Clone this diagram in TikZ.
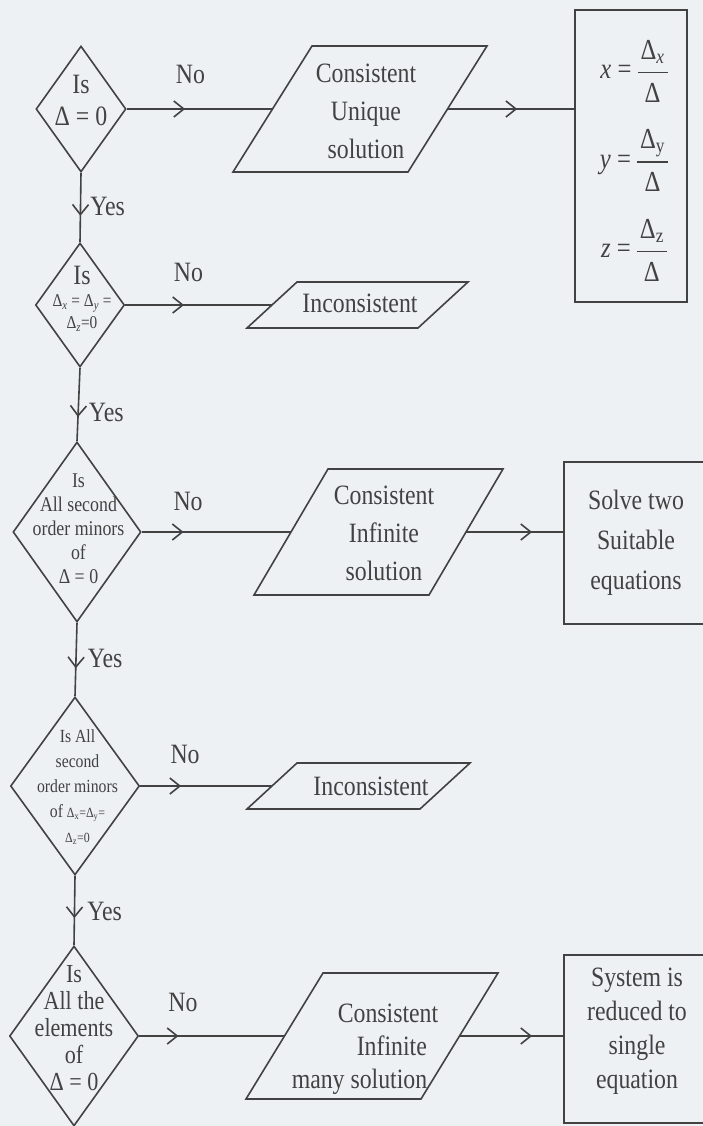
\documentclass[tikz,border=0pt]{standalone}
\usepackage[no-math]{fontspec}
\setmainfont{Liberation Serif}[FakeStretch=0.85]
\usetikzlibrary{shapes.geometric,arrows.meta,decorations.markings}
\definecolor{ink}{RGB}{66,66,66}
\definecolor{paper}{RGB}{237,241,243}
\newcommand\delfrac[1]{{\renewcommand\arraystretch{1.3}\setlength\arrayrulewidth{1.3pt}\begin{tabular}{@{\hspace{3pt}}c@{\hspace{3pt}}}#1\\\hline Δ\end{tabular}}}
\tikzset{
  shp/.style={draw=ink, line width=1.6pt},
  dia/.style={diamond, draw=ink, line width=1.6pt, inner sep=0pt},
  txt/.style={text=ink, align=center, inner sep=0pt},
  flow/.style={draw=ink, color=ink, line width=1.6pt},
  midarr/.style={postaction={decorate}, decoration={markings, mark=at position #1 with {\arrow{Straight Barb[length=10pt,width=16pt]}}}},
  lab/.style={text=ink, inner sep=0pt, font=\fontsize{28}{30}\selectfont},
  rbox/.style={draw=ink, line width=1.6pt, align=center, text=ink, inner sep=0pt},
}
\begin{document}
\begin{tikzpicture}[x=1pt,y=-1pt]
\useasboundingbox (0,0) rectangle (703,1126);
\fill[paper] (0,0) rectangle (703,1126);
\clip (0,0) rectangle (703,1126);

% decision diamonds
\node[dia, minimum width=90pt, minimum height=126pt] (d1) at (81,109) {};
\node[dia, minimum width=89pt, minimum height=124pt] (d2) at (80,305) {};
\node[dia, minimum width=128pt, minimum height=180pt] (d3) at (77,532) {};
\node[dia, minimum width=129pt, minimum height=178pt] (d4) at (75,786) {};
\node[dia, minimum width=129pt, minimum height=180pt] (d5) at (74,1036) {};

\node[txt, font=\fontsize{28}{32}\selectfont] (t1) at (81,100) {Is\\Δ = 0};
\node[txt, font=\fontsize{18}{22}\selectfont] (t2) at (82,299) {{\fontsize{28}{32}\selectfont Is}\\Δ\textsubscript{\textit{x}} = Δ\textsubscript{\textit{y}} =\\Δ\textsubscript{\textit{z}}=0};
\node[txt, font=\fontsize{21}{24}\selectfont] (t3) at (78.5,529) {Is\\All second\\order minors\\of\\Δ = 0};
\node[txt, font=\fontsize{18.5}{25}\selectfont] (t4) at (77.5,787) {Is All\\second\\order minors\\of {\fontsize{14}{15}\selectfont Δ\textsubscript{x}=Δ\textsubscript{y}=}\\{\fontsize{14}{15}\selectfont Δ\textsubscript{z}=0}};
\node[txt, font=\fontsize{26}{27}\selectfont] (t5) at (74,1028) {Is\\All the\\elements\\of\\Δ = 0};

% parallelograms
\coordinate (p1tl) at (312,46); \coordinate (p1tr) at (487,46);
\coordinate (p1br) at (408,172); \coordinate (p1bl) at (233,172);
\coordinate (p1w) at (272.5,109); \coordinate (p1e) at (447.5,109);
\draw[shp] (p1tl) -- (p1tr) -- (p1br) -- (p1bl) -- cycle;
\node[txt, font=\fontsize{28}{38}\selectfont] (pt1) at (366,111) {Consistent\\Unique\\solution};

\coordinate (p2tl) at (297,282); \coordinate (p2tr) at (468,282);
\coordinate (p2br) at (418,328); \coordinate (p2bl) at (247,328);
\coordinate (p2w) at (272,305);
\draw[shp] (p2tl) -- (p2tr) -- (p2br) -- (p2bl) -- cycle;
\node[txt, font=\fontsize{28}{34}\selectfont] (pt2) at (360,303) {Inconsistent};

\coordinate (p3tl) at (328,469); \coordinate (p3tr) at (503,469);
\coordinate (p3br) at (429,595); \coordinate (p3bl) at (254,595);
\coordinate (p3w) at (291,532); \coordinate (p3e) at (466,532);
\draw[shp] (p3tl) -- (p3tr) -- (p3br) -- (p3bl) -- cycle;
\node[txt, font=\fontsize{28}{38}\selectfont] (pt3) at (384,533) {Consistent\\Infinite\\solution};

\coordinate (p4tl) at (297,763); \coordinate (p4tr) at (470,763);
\coordinate (p4br) at (420,809); \coordinate (p4bl) at (247,809);
\coordinate (p4w) at (272,786);
\draw[shp] (p4tl) -- (p4tr) -- (p4br) -- (p4bl) -- cycle;
\node[txt, font=\fontsize{28}{34}\selectfont] (pt4) at (371,786) {Inconsistent};

\coordinate (p5tl) at (323,973); \coordinate (p5tr) at (498,973);
\coordinate (p5br) at (421,1099); \coordinate (p5bl) at (246,1099);
\coordinate (p5w) at (284.5,1036); \coordinate (p5e) at (459.5,1036);
\draw[shp] (p5tl) -- (p5tr) -- (p5br) -- (p5bl) -- cycle;
\node[txt, align=left, font=\fontsize{28}{33}\selectfont] (pt5) at (365,1049) {\hspace*{46pt}Consistent\\\hspace*{65pt}Infinite\\many solution};

% result boxes
\node[rbox, minimum width=112pt, minimum height=292pt] (b1) at (631,156) {};
\node[txt, font=\fontsize{29}{32}\selectfont] (b1t) at (634,162)
  {\textit{x} = \delfrac{Δ\textsubscript{\textit{x}}}\\[4pt]\textit{y} = \delfrac{Δ\textsubscript{y}}\\[4pt]\textit{z} = \delfrac{Δ\textsubscript{z}}};
\node[rbox, minimum width=144pt, minimum height=162pt, font=\fontsize{28}{40}\selectfont] (b3) at (636,543)
  {Solve two\\Suitable\\equations};
\node[rbox, minimum width=146pt, minimum height=168pt] (b5) at (637,1039) {};
\node[txt, font=\fontsize{28}{34}\selectfont] (b5t) at (637,1031)
  {System is\\reduced to\\single\\equation};

% vertical (Yes) connectors
\draw[flow, midarr=0.62] (d1.south) -- node[lab, right=9pt, pos=0.49] {Yes} (d2.north);
\draw[flow, midarr=0.67] (d2.south) -- node[lab, right=10pt, pos=0.61] {Yes} (d3.north);
\draw[flow, midarr=0.62] (d3.south) -- node[lab, right=11pt, pos=0.49] {Yes} (d4.north);
\draw[flow, midarr=0.61] (d4.south) -- node[lab, right=12pt, pos=0.51] {Yes} (d5.north);

% horizontal (No) connectors
\draw[flow, midarr=0.40] (d1.east) -- node[lab, above=24pt, pos=0.437] {No} (p1w);
\draw[flow, midarr=0.40] (d2.east) -- node[lab, above=22pt, pos=0.43] {No} (p2w);
\draw[flow, midarr=0.28] (d3.east) -- node[lab, above=20pt, pos=0.31] {No} (p3w);
\draw[flow, midarr=0.31] (d4.east) -- node[lab, above=21pt, pos=0.34] {No} (p4w);
\draw[flow, midarr=0.27] (d5.east) -- node[lab, above=23pt, pos=0.30] {No} (p5w);

% to result boxes
\draw[flow, midarr=0.55] (p1e) -- (p1e -| b1.west);
\draw[flow, midarr=0.68] (p3e) -- (p3e -| b3.west);
\draw[flow, midarr=0.70] (p5e) -- (p5e -| b5.west);
\end{tikzpicture}
\end{document}
